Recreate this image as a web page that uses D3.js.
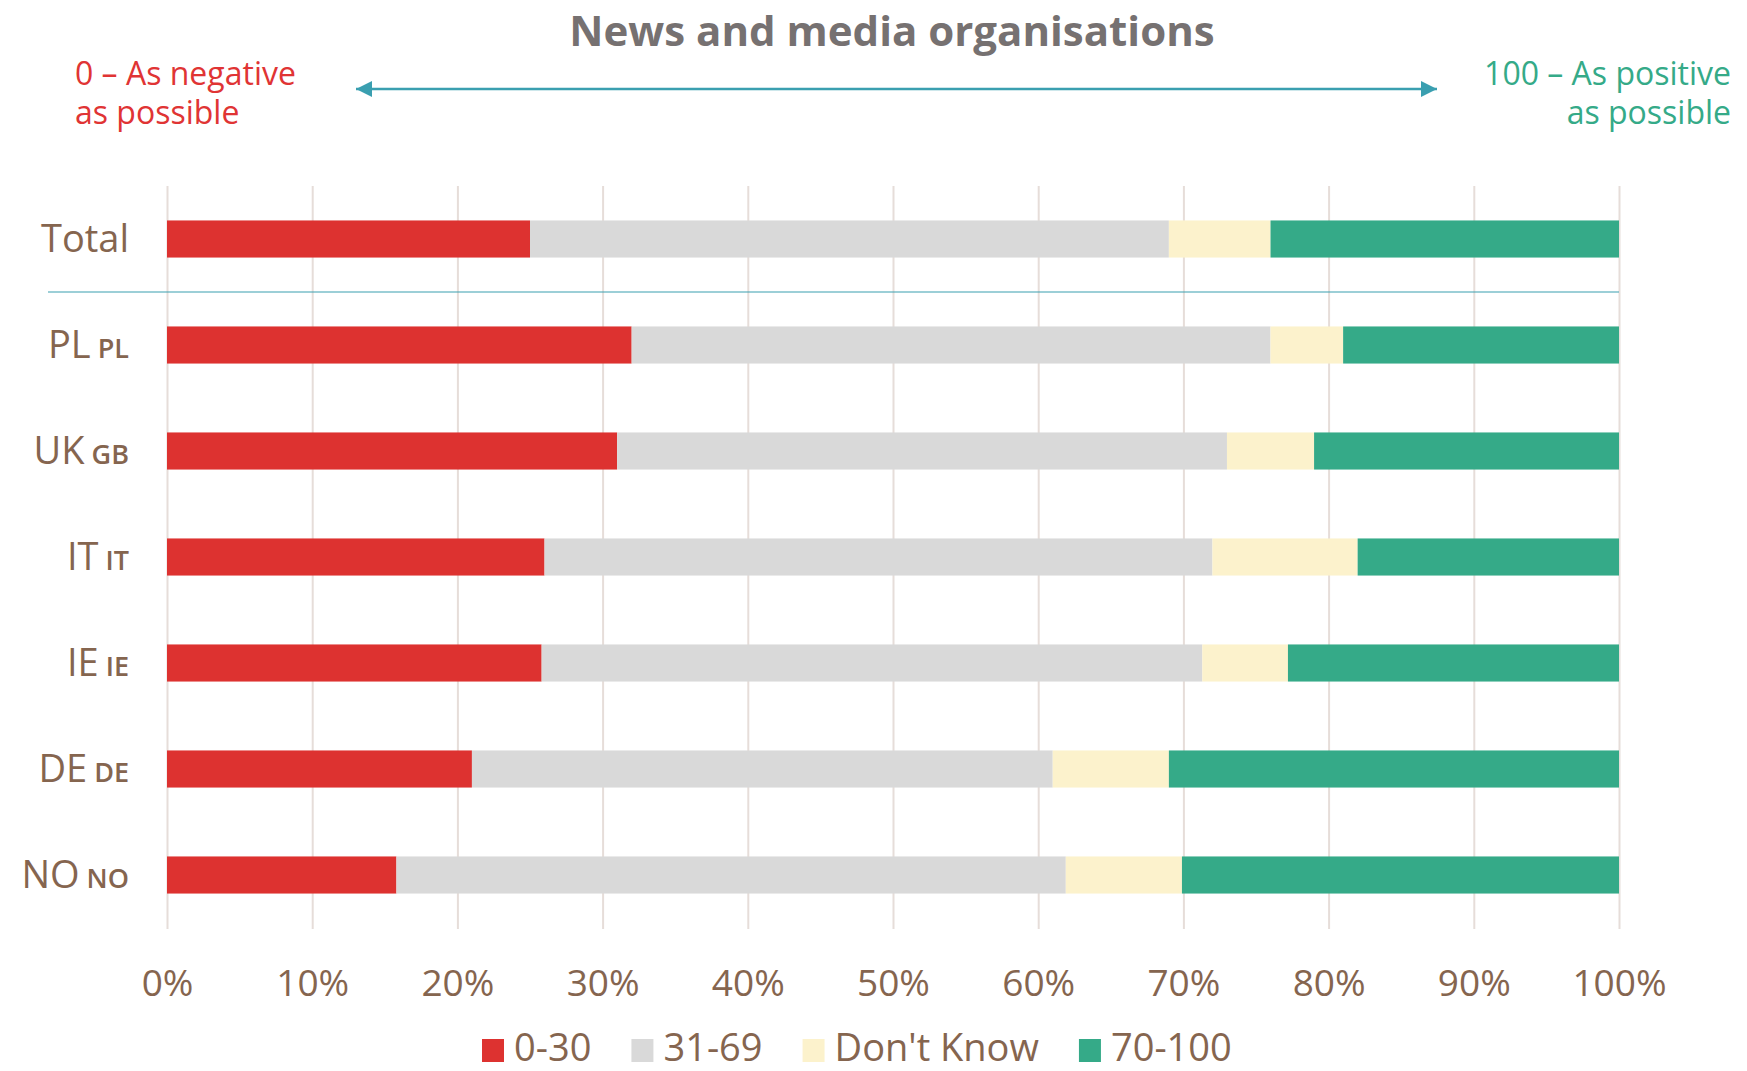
<!DOCTYPE html>
<html>
<head>
<meta charset="utf-8">
<script src="https://cdn.jsdelivr.net/npm/d3@7"></script>
<style>
  body { margin: 0; background: #fff; }
  text { font-family: 'Open Sans', sans-serif; }
  .grid line { stroke: #e6ddd9; stroke-width: 2; }
  .grid path { display: none; }
</style>
</head>
<body>
<div id="chart"></div>
<script>
// rows from top to bottom: label + small country code
const rows = ['Total', 'PL', 'UK', 'IT', 'IE', 'DE', 'NO'];
const codes = ['', 'PL', 'GB', 'IT', 'IE', 'DE', 'NO'];

// series values (% of respondents)
const seriesNames = ['0-30', '31-69', "Don't Know", '70-100'];
const low = [25, 32, 31, 26, 25.8, 21, 15.8];
const mid = [44, 44, 42, 46, 45.5, 40, 46.1];
const dontKnow = [7, 5, 6, 10, 5.9, 8, 8.0];
const high = [24, 19, 21, 18, 22.8, 31, 30.1];

const xTicks = [0, 10, 20, 30, 40, 50, 60, 70, 80, 90, 100];
const colors = ['#dd3230', '#d9d9d9', '#fcf2cc', '#35aa88'];

const width = 1747;
const height = 1071;
const textColor = '#85654f';

const svg = d3.select('#chart')
  .append('svg')
  .attr('width', width)
  .attr('height', height);

// scales
const x = d3.scaleLinear().domain([0, 100]).range([167, 1619]);
const y = d3.scaleBand().domain(rows).range([186, 928]).paddingInner(0.65).paddingOuter(0.325);

// stack the series
const table = rows.map((r, i) => ({ row: r, s0: low[i], s1: mid[i], s2: dontKnow[i], s3: high[i] }));
const stacked = d3.stack().keys(['s0', 's1', 's2', 's3'])(table);

// vertical gridlines
svg.append('g')
  .attr('class', 'grid')
  .attr('transform', `translate(0,${y.range()[1] + 1})`)
  .call(d3.axisBottom(x).tickValues(xTicks).tickSize(-(y.range()[1] - y.range()[0] + 1)).tickFormat(''));

// x axis labels
const xAxis = svg.append('g')
  .attr('transform', `translate(0,${y.range()[1]})`)
  .call(d3.axisBottom(x).tickValues(xTicks).tickSize(0).tickFormat((d) => d + '%'));
xAxis.select('.domain').remove();
xAxis.selectAll('text')
  .attr('y', 68)
  .attr('dy', 0)
  .style('font-size', '37px')
  .style('fill', textColor);

// bars
svg.append('g')
  .selectAll('g')
  .data(stacked)
  .join('g')
  .attr('fill', (d, i) => colors[i])
  .selectAll('rect')
  .data((d) => d)
  .join('rect')
  .attr('x', (d) => x(d[0]))
  .attr('y', (d) => y(d.data.row))
  .attr('width', (d) => x(d[1]) - x(d[0]))
  .attr('height', y.bandwidth());

// row labels
const yAxis = svg.append('g')
  .attr('transform', 'translate(129,0)')
  .call(d3.axisLeft(y).tickSize(0).tickFormat(''));
yAxis.select('.domain').remove();
const lbl = yAxis.selectAll('.tick')
  .append('text')
  .attr('text-anchor', 'end')
  .attr('x', 0)
  .attr('y', 13)
  .style('fill', textColor);
lbl.append('tspan')
  .style('font-size', '38px')
  .text((d) => d);
lbl.append('tspan')
  .style('font-size', '27px')
  .style('font-weight', 600)
  .text((d, i) => (codes[i] ? '\u00a0' + codes[i] : ''));

// separator under Total
const sepY = y('Total') + y.bandwidth() + (y.step() - y.bandwidth()) / 2;
svg.append('line')
  .attr('x1', 48)
  .attr('x2', x(100))
  .attr('y1', sepY)
  .attr('y2', sepY)
  .attr('stroke', '#3a9fb0')
  .attr('stroke-width', 1.2);

// title
svg.append('text')
  .attr('x', 892)
  .attr('y', 46)
  .attr('text-anchor', 'middle')
  .style('font-size', '42px')
  .style('font-weight', 700)
  .style('fill', '#767171')
  .text('News and media organisations');

// scale annotations
const left = svg.append('text').style('font-size', '32px').style('fill', '#e03434');
left.append('tspan').attr('x', 75).attr('y', 85).text('0 \u2013 As negative');
left.append('tspan').attr('x', 75).attr('y', 124).text('as possible');

const right = svg.append('text').attr('text-anchor', 'end').style('font-size', '32px').style('fill', '#35aa88');
right.append('tspan').attr('x', 1731).attr('y', 85).text('100 \u2013 As positive');
right.append('tspan').attr('x', 1731).attr('y', 124).text('as possible');

// double headed arrow
const defs = svg.append('defs');
defs.append('marker')
  .attr('id', 'head')
  .attr('viewBox', '0 0 16 16')
  .attr('refX', 16)
  .attr('refY', 8)
  .attr('markerWidth', 16)
  .attr('markerHeight', 16)
  .attr('markerUnits', 'userSpaceOnUse')
  .attr('orient', 'auto-start-reverse')
  .append('path')
  .attr('d', 'M0,0L16,8L0,16Z')
  .attr('fill', '#3a9fb0');
svg.append('line')
  .attr('x1', 356)
  .attr('x2', 1437)
  .attr('y1', 89)
  .attr('y2', 89)
  .attr('stroke', '#3a9fb0')
  .attr('stroke-width', 2.5)
  .attr('marker-start', 'url(#head)')
  .attr('marker-end', 'url(#head)');

// legend
const legend = svg.append('g').attr('transform', 'translate(482,1039)');
let lx = 0;
seriesNames.forEach((name, i) => {
  const item = legend.append('g').attr('transform', `translate(${lx},0)`);
  item.append('rect').attr('width', 22).attr('height', 23).attr('fill', colors[i]);
  const t = item.append('text')
    .attr('x', 32)
    .attr('y', 22)
    .style('font-size', '38px')
    .style('fill', textColor)
    .text(name);
  lx += 32 + t.node().getComputedTextLength() + 40;
});
</script>
</body>
</html>
